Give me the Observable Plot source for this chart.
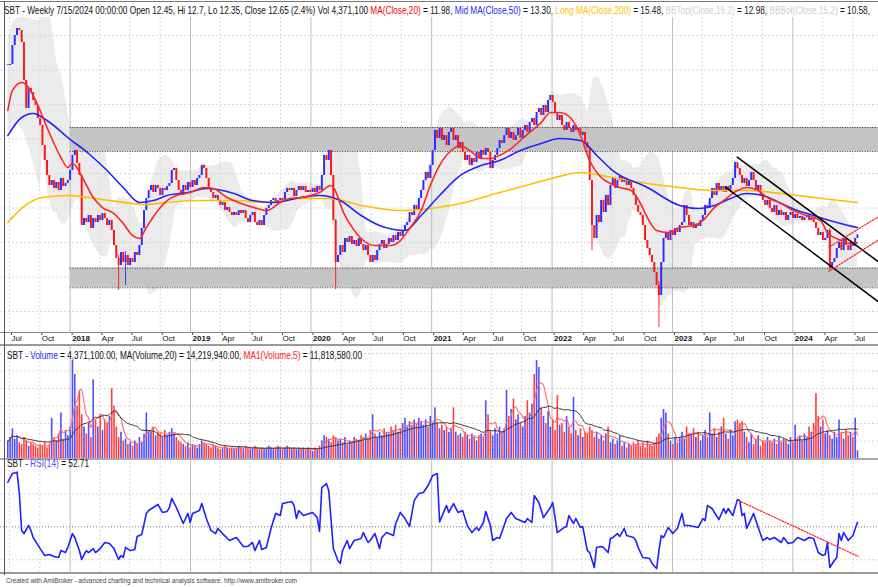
<!DOCTYPE html>
<html><head><meta charset="utf-8">
<script src="https://cdn.jsdelivr.net/npm/d3@7"></script>
<script src="https://cdn.jsdelivr.net/npm/@observablehq/plot@0.6"></script>
<style>
body{margin:0;background:#fff;}
#chart{position:relative;width:878px;height:587px;overflow:hidden;background:#fff;font-family:"Liberation Sans",Arial,sans-serif;}
.pane{position:absolute;left:0;}
.hdr{position:absolute;white-space:nowrap;transform-origin:0 50%;color:#111;}
.sep{position:absolute;left:0;width:878px;}
</style></head><body><div id="chart"></div>
<script>
// ---------- DATA (weekly bars, SBT) ----------
const firstWeek = "2017-06-26";           // Monday of first weekly bar
const closes = [27.39,27.48,29.13,30.0,30.61,30.43,29.39,26.09,23.65,25.39,
25.04,24.35,23.91,22.78,22.17,20.43,19.13,17.83,16.96,17.39,
16.70,17.22,16.52,17.57,16.87,17.13,17.39,18.26,19.57,20.0,
18.87,17.83,13.48,14.09,13.74,14.35,13.22,14.09,13.74,14.35,
13.91,14.52,14.09,13.48,13.91,13.04,11.74,10.61,10.0,11.13,
10.26,10.87,10.0,10.61,10.26,11.13,10.87,11.74,13.22,14.78,
15.83,16.52,16.96,16.35,16.96,16.70,16.09,16.70,16.52,16.87,
17.13,18.26,18.43,17.39,16.52,16.09,16.96,16.52,17.22,16.78,
17.39,16.96,17.57,17.83,18.70,18.43,17.57,16.70,16.35,15.83,
16.09,15.65,15.22,15.48,14.78,15.04,14.61,14.35,14.61,14.35,
14.78,14.52,14.78,14.09,13.74,14.35,14.61,13.74,13.48,13.91,
13.48,14.35,14.96,15.22,15.65,15.83,15.39,15.65,15.83,15.65,
16.35,16.70,16.52,16.70,16.0,16.52,16.87,16.52,16.87,16.35,
16.52,16.35,16.70,16.35,16.87,16.52,17.83,19.57,19.13,20.0,
17.83,13.91,10.26,10.87,11.74,11.13,12.35,12.0,12.52,11.83,
12.17,11.65,12.35,11.83,11.30,11.74,10.87,10.26,10.87,10.43,
11.30,11.83,12.17,11.48,11.83,12.35,12.0,12.61,12.17,12.87,
12.52,13.04,13.48,13.74,14.61,14.35,15.22,14.78,15.83,16.52,
17.39,18.09,17.57,18.70,20.0,21.74,21.04,21.91,20.87,21.30,
20.43,21.57,21.91,20.87,21.30,20.17,20.70,19.83,19.13,19.57,
18.70,19.30,18.96,19.83,19.30,20.0,19.57,20.17,19.83,18.43,
19.13,19.57,20.17,20.87,20.61,21.30,21.91,21.04,21.57,20.87,
21.30,21.91,21.04,21.74,22.17,21.57,22.43,22.78,22.17,23.30,
23.65,23.04,23.91,23.30,24.35,24.78,24.17,23.30,22.61,23.04,
22.17,21.74,22.43,21.91,21.57,22.17,21.74,21.91,21.30,21.57,
20.70,20.17,17.39,13.48,12.35,14.35,13.74,15.65,14.61,16.09,
15.22,16.96,17.57,16.70,17.39,17.74,17.22,17.57,16.96,17.39,
16.70,16.09,15.22,14.61,14.35,13.48,12.17,11.48,10.87,10.26,
9.39,8.26,7.39,10.26,12.35,12.87,12.17,13.04,12.61,13.22,
12.87,13.48,13.74,15.22,14.35,13.48,13.74,13.22,13.57,13.39,
13.91,14.35,15.22,14.96,15.83,16.70,16.09,17.13,16.52,16.87,
16.35,16.87,16.52,16.96,17.57,18.96,18.43,17.83,17.13,17.57,
16.87,17.39,18.09,17.39,16.52,16.96,16.09,15.65,15.22,15.65,
14.96,14.61,15.22,14.35,14.78,14.35,14.61,13.91,14.35,14.61,
14.09,14.43,14.09,14.26,13.91,14.17,14.35,13.91,14.09,13.74,
13.22,12.61,12.87,12.17,12.35,13.04,9.74,10.26,10.61,11.48,
12.0,11.30,12.35,11.74,11.30,12.0,11.65,12.35,12.65];
// notable wicks [week index, low, high]
const wicks = [[48,7.83,10.9],[51,8.26,11.2],[142,7.9,14.0],[282,4.61,8.6],[356,9.57,13.2],[253,11.3,17.4]];
// volume, millions of shares
const volumes = [10,12,17,11,13,9,8,12,10,7,
9,8,7,6,8,7,9,6,8,23,
12,10,14,26,11,16,13,18,56,48,
30,39,25,18,14,20,12,45,22,18,
25,16,22,20,24,40,30,18,12,15,
10,11,8,9,7,10,8,12,9,14,
26,16,15,18,13,15,14,12,16,13,
15,17,14,12,10,9,8,7,9,6,
8,7,6,8,10,9,8,7,6,8,
7,6,5,6,7,6,5,6,5,6,
7,6,5,7,6,5,6,7,6,5,
6,5,6,7,6,5,6,7,6,5,
6,7,6,5,6,5,6,5,6,5,
6,5,4,6,5,7,10,13,12,11,
9,13,12,10,11,9,12,8,10,9,
12,11,10,13,12,14,11,16,25,14,
12,15,13,17,15,14,18,16,19,15,
17,20,23,18,21,19,22,20,23,21,
19,22,18,24,20,29,20,17,19,16,
18,15,17,29,15,13,14,12,15,13,
11,14,12,10,13,14,12,33,25,16,
13,17,14,18,15,17,39,24,28,34,
22,25,20,18,24,33,26,31,48,56,
52,29,24,20,27,18,22,16,36,19,
20,15,24,18,14,35,16,13,17,12,
15,14,18,16,12,15,11,13,10,14,
18,9,11,8,10,13,7,9,6,8,
7,9,8,10,7,9,6,10,8,7,
9,12,14,23,28,26,14,10,8,12,
9,12,15,11,18,14,13,17,12,15,
10,13,16,12,26,14,17,12,15,18,
23,14,11,16,13,21,22,20,21,15,
12,9,14,8,11,13,7,10,9,12,
10,9,11,8,12,9,11,10,8,12,
9,19,11,13,10,14,12,18,15,20,
37,24,18,22,14,16,13,11,15,12,
22,14,11,16,13,15,12,23,4.3711];
// moving averages [week index, value]
const ma20 = [[0,23.48],[2,25.22],[6,25.91],[9,25.48],[11,24.78],[14,23.48],[17,22.0],[20,20.61],[23,19.39],[26,18.52],[28,18.87],[33,17.39],[37,15.91],[41,15.04],[46,14.52],[50,13.65],[54,12.61],[57,12.35],[60,13.30],[65,14.78],[69,15.65],[73,16.09],[79,16.35],[85,16.78],[89,16.70],[95,15.91],[101,15.39],[108,14.96],[112,14.78],[118,15.48],[122,15.83],[127,15.91],[135,16.35],[140,16.96],[146,14.35],[153,12.35],[159,11.74],[166,11.74],[170,12.17],[174,13.22],[179,14.78],[183,16.96],[187,18.70],[192,20.0],[196,20.43],[200,20.0],[205,19.30],[209,19.30],[213,19.57],[218,20.17],[222,20.87],[226,21.57],[231,22.43],[235,23.30],[239,23.30],[244,22.78],[248,21.30],[252,19.13],[257,17.65],[261,17.13],[265,16.78],[270,16.52],[274,15.39],[277,14.17],[281,13.04],[286,12.87],[291,13.30],[297,13.48],[301,13.91],[306,15.04],[310,15.65],[316,16.52],[320,16.78],[325,16.52],[329,15.91],[335,15.39],[340,14.78],[346,14.35],[352,13.91],[355,12.87],[361,12.17],[365,11.90],[368,11.98]];
const ma50 = [[0,21.30],[6,22.87],[11,23.22],[17,22.61],[26,21.13],[35,19.74],[43,18.26],[50,16.78],[57,15.48],[63,15.65],[69,16.09],[78,16.35],[86,16.70],[98,16.26],[106,15.65],[115,15.48],[127,15.91],[135,16.09],[144,15.65],[153,14.35],[161,13.48],[172,13.04],[179,14.35],[187,16.09],[196,17.83],[205,18.70],[213,19.13],[222,20.0],[231,20.61],[239,21.04],[248,20.87],[256,19.39],[262,18.26],[277,16.78],[291,15.22],[299,14.96],[306,15.22],[313,15.83],[320,16.26],[327,16.09],[335,15.39],[342,14.78],[349,14.35],[356,13.91],[364,13.48],[368,13.30]];
const ma200 = [[0,13.74],[6,14.96],[11,15.65],[15,15.91],[26,16.09],[35,15.91],[44,15.65],[54,15.39],[59,15.30],[69,15.48],[83,15.65],[98,15.65],[112,15.48],[127,15.83],[140,15.83],[153,15.22],[170,14.78],[183,14.96],[196,15.39],[213,16.35],[226,17.04],[237,17.65],[248,18.09],[262,17.65],[277,17.13],[291,16.78],[306,16.52],[320,16.52],[335,16.26],[349,15.91],[368,15.48]];
// Bollinger band for the first weeks (window reaches before the first bar) [week index, top, bottom]
const bbHead = [[0,29.57,21.74],[3,31.3,22.17],[6,31.56,21.9],[9,31.5,20.4],[12,31.3,18.26],[14,31.3,16.96]];
// RSI(14) [week index, value]
const rsi = [[0,77.0],[2,82.3],[4,83.1],[5,70.2],[6,47.8],[7,45.9],[9,50.8],[10,47.8],[11,43.5],[14,36.8],[16,32.6],[18,33.2],[20,32.0],[22,31.4],[23,35.6],[25,34.4],[26,37.5],[28,45.9],[29,43.5],[31,35.6],[32,30.2],[34,35.6],[35,34.4],[37,36.8],[38,34.4],[40,36.8],[42,40.5],[44,39.9],[46,36.8],[48,30.2],[49,32.6],[50,31.4],[51,37.5],[53,35.6],[55,36.2],[56,44.1],[58,45.3],[60,58.1],[61,59.9],[63,61.7],[65,63.5],[67,58.7],[69,59.3],[70,61.7],[71,67.2],[73,61.7],[76,52.0],[78,58.1],[79,52.6],[80,58.1],[83,59.9],[84,64.1],[86,55.0],[88,47.8],[90,45.9],[91,49.0],[93,45.9],[96,41.7],[99,43.5],[102,38.1],[104,38.1],[106,40.5],[107,35.6],[109,41.7],[110,36.2],[112,37.5],[114,49.0],[116,58.1],[118,56.8],[119,64.1],[123,65.3],[124,62.9],[125,55.0],[126,59.9],[128,56.8],[132,58.7],[134,55.6],[135,47.2],[136,73.8],[138,76.2],[139,72.0],[141,36.8],[143,29.6],[144,27.8],[145,35.6],[147,41.7],[148,36.8],[150,41.7],[153,42.9],[154,46.5],[156,40.5],[157,41.7],[159,45.9],[161,36.8],[162,43.5],[164,46.5],[167,44.7],[168,52.0],[170,58.7],[172,55.0],[174,50.2],[176,65.9],[178,70.2],[180,70.8],[182,75.0],[184,81.1],[186,82.3],[187,53.0],[190,62.9],[191,58.7],[193,64.1],[195,58.7],[197,59.9],[199,50.8],[201,46.5],[203,49.6],[204,47.8],[206,52.6],[207,59.3],[209,50.8],[210,41.7],[212,43.5],[213,42.9],[216,55.0],[218,58.7],[220,55.0],[222,53.8],[224,52.6],[225,55.0],[227,52.6],[228,69.0],[230,64.7],[232,55.6],[235,61.7],[236,64.7],[238,46.5],[241,49.6],[242,50.2],[243,56.8],[245,52.0],[246,55.0],[248,49.6],[249,50.2],[251,35.6],[252,34.4],[254,25.3],[255,37.5],[257,38.1],[258,37.5],[260,34.4],[261,42.9],[262,43.5],[264,45.9],[265,44.1],[267,49.0],[268,44.7],[271,43.5],[272,41.7],[273,37.5],[275,31.4],[278,30.8],[279,27.8],[281,24.7],[282,35.6],[283,44.7],[284,43.5],[286,49.6],[287,47.8],[288,45.9],[290,49.0],[292,58.1],[293,50.8],[295,50.8],[297,50.2],[299,49.6],[301,55.0],[302,53.8],[303,62.9],[305,61.1],[306,58.7],[308,54.4],[310,61.1],[311,58.1],[312,61.1],[314,56.8],[316,66.5],[317,65.9],[318,56.8],[319,58.1],[320,49.0],[322,55.0],[323,58.1],[325,49.6],[327,41.7],[329,43.5],[330,42.3],[332,43.5],[335,40.5],[336,43.5],[338,39.9],[340,40.5],[342,43.5],[345,41.7],[347,43.5],[349,42.9],[351,34.4],[353,32.6],[354,33.2],[355,40.5],[356,25.3],[358,29.6],[359,31.4],[360,45.9],[361,41.7],[362,46.5],[364,41.7],[366,44.7],[368,52.71]];
// support/resistance zones and trend lines
const zones = [{from:"2018-01-01", to:"2025-06-01", lo:19.91, hi:22.0},{from:"2018-01-01", to:"2025-06-01", lo:8.06, hi:9.77}];
const blackChannel = [[[315.9,19.42],[380.2,9.85]],[[310.8,16.81],[380.2,6.37]]];
const redChannel = [[[355.6,11.59],[380.2,14.63]],[[355.6,9.50],[380.2,12.61]]];
const rsiTrend = [[316.5,65.9],[368.4,32.0]];
const priceGrid = [6,9,12,15,18,21,24,27,30];
const volGrid = [10,20,30,40,50,60];
const rsiGrid = [30,70];
const monthTicks = ["2017-07-01","2017-10-01","2018-04-01","2018-07-01","2018-10-01","2019-04-01","2019-07-01","2019-10-01","2020-04-01","2020-07-01","2020-10-01","2021-04-01","2021-07-01","2021-10-01","2022-04-01","2022-07-01","2022-10-01","2023-04-01","2023-07-01","2023-10-01","2024-04-01","2024-07-01"];
const monthLabels = ["Jul","Oct","Apr","Jul","Oct","Apr","Jul","Oct","Apr","Jul","Oct","Apr","Jul","Oct","Apr","Jul","Oct","Apr","Jul","Oct","Apr","Jul"];
const yearTicks = ["2018-01-01","2019-01-01","2020-01-01","2021-01-01","2022-01-01","2023-01-01","2024-01-01"];
const yearLabels = ["2018","2019","2020","2021","2022","2023","2024"];

// ---------- BUILD ----------
const t0 = new Date(firstWeek + "T00:00:00Z").getTime();
const wk = i => new Date(t0 + i * 7 * 864e5);
const bars = closes.map((c, i) => {
  const o = i ? closes[i - 1] : c;
  const w = wicks.find(d => d[0] === i);
  return {date: wk(i), o, c, lo: w ? w[1] : Math.min(o, c), hi: w ? w[2] : Math.max(o, c), up: c >= o, v: volumes[i]};
});
const bbCalc = closes.map((c, i) => {
  const w = closes.slice(i - 14, i + 1);
  const m = d3.mean(w), s = Math.sqrt(d3.mean(w, x => (x - m) ** 2));
  return {date: wk(i), top: m + 2 * s, bot: m - 2 * s};
}).filter((d, i) => i >= 15);
const bb = [...bbHead.map(d => ({date: wk(d[0]), top: d[1], bot: d[2]})), ...bbCalc];
const movAvg = (arr, n) => arr.map((_, i) => ({date: wk(i), v: d3.mean(arr.slice(Math.max(0, i - n + 1), i + 1))}));
const vma20 = movAvg(volumes, 20), vma5 = movAvg(volumes, 5);
const mT = monthTicks.map(s => new Date(s + "T00:00:00Z"));
const yT = yearTicks.map(s => new Date(s + "T00:00:00Z"));
const mLab = new Map(mT.map((d, i) => [+d, monthLabels[i]]));
const yLab = new Map(yT.map((d, i) => [+d, yearLabels[i]]));
const X = {type: "utc", domain: [wk(0), wk(368)], range: [7.3, 857]};
const F = "Liberation Sans, Arial, sans-serif";
const pt = d => ({date: wk(d[0]), v: d[1]});
const UP = "#2b2bff", DN = "#ff1414";
const vgrid = [
  Plot.ruleX(mT, {stroke: "#d8d8d8", strokeDasharray: "2,2"}),
  Plot.ruleX(yT, {stroke: "#bdbdbd"})
];

const price = Plot.plot({
  width: 878, height: 345, marginTop: 17, marginBottom: 13, marginLeft: 0, marginRight: 0,
  x: {...X, axis: null}, y: {domain: [0, 380 / 11.5], range: [380, 0], axis: null},
  style: {background: "transparent", fontFamily: F},
  marks: [
    Plot.areaY(bb, {x: "date", y1: "bot", y2: "top", fill: "#ebebeb", curve: "monotone-x", clip: true}),
    Plot.ruleY(priceGrid, {stroke: "#d8d8d8", strokeDasharray: "2,2"}),
    ...vgrid,
    Plot.rect(zones, {x1: d => new Date(d.from), x2: d => new Date(d.to), y1: "lo", y2: "hi", fill: "#c4c4c4", clip: true}),
    Plot.ruleY(zones.flatMap(z => [z.lo, z.hi].map(y => ({y, from: new Date(z.from), to: new Date(z.to)}))), {y: "y", x1: "from", x2: "to", stroke: "#333", strokeDasharray: "1,1.5", clip: true}),
    Plot.ruleX(bars, {x: "date", y1: "lo", y2: "hi", stroke: d => d.up ? UP : DN, strokeWidth: 0.9, clip: true}),
    Plot.ruleX(bars, {x: "date", y1: "o", y2: d => d.c === d.o ? d.c + 0.06 : d.c, stroke: d => d.up ? UP : DN, strokeWidth: 1.9, clip: true}),
    Plot.line(ma200.map(pt), {x: "date", y: "v", stroke: "#ffbf00", strokeWidth: 1.6, curve: "monotone-x", clip: true}),
    Plot.line(ma50.map(pt), {x: "date", y: "v", stroke: "#2323ff", strokeWidth: 1.6, curve: "monotone-x", clip: true}),
    Plot.line(ma20.map(pt), {x: "date", y: "v", stroke: "#ff2626", strokeWidth: 1.6, curve: "monotone-x", clip: true}),
    ...blackChannel.map(l => Plot.line(l.map(pt), {x: "date", y: "v", stroke: "#000", strokeWidth: 1.5, clip: true})),
    ...redChannel.map(l => Plot.line(l.map(pt), {x: "date", y: "v", stroke: "#ff2020", strokeWidth: 1.2, strokeDasharray: "1.5,1.5", clip: true})),
    Plot.axisX(mT, {anchor: "bottom", tickSize: 3, tickPadding: 0, textAnchor: "start", dx: 2, fontSize: 8, tickFormat: d => mLab.get(+d), label: null, stroke: "#444", fill: "#111"}),
    Plot.axisX(yT, {anchor: "bottom", tickSize: 3, tickPadding: 0, textAnchor: "start", dx: 2, fontSize: 8, fontWeight: "bold", tickFormat: d => yLab.get(+d), label: null, stroke: "#444", fill: "#111"})
  ]
});

const vol = Plot.plot({
  width: 878, height: 113, marginTop: 0, marginBottom: 0, marginLeft: 0, marginRight: 0,
  x: {...X, axis: null}, y: {domain: [0, 113 / 1.75], range: [113, 0], axis: null},
  style: {background: "transparent", fontFamily: F},
  marks: [
    Plot.ruleY(volGrid, {stroke: "#d8d8d8", strokeDasharray: "2,2"}),
    ...vgrid,
    Plot.ruleX(bars.filter(d => d.up), {x: "date", y1: 0, y2: "v", stroke: "#4f4fff", strokeWidth: 1.6}),
    Plot.ruleX(bars.filter(d => !d.up), {x: "date", y1: 0, y2: "v", stroke: "#ff4040", strokeWidth: 1.6}),
    Plot.line(vma5, {x: "date", y: "v", stroke: "#ff6a6a", strokeWidth: 1.1, curve: "monotone-x"}),
    Plot.line(vma20, {x: "date", y: "v", stroke: "#3a3a3a", strokeWidth: 1, curve: "monotone-x"})
  ]
});

const rsiP = Plot.plot({
  width: 878, height: 114, marginTop: 0, marginBottom: 0, marginLeft: 0, marginRight: 0,
  x: {...X, axis: null}, y: {domain: [0, 100], range: [150.8, -14.2], axis: null},
  style: {background: "transparent", fontFamily: F},
  marks: [
    Plot.ruleY(rsiGrid, {stroke: "#d8d8d8", strokeDasharray: "2,2"}),
    Plot.ruleY([50], {stroke: "#777", strokeDasharray: "1,2"}),
    ...vgrid,
    Plot.line(rsi.map(pt), {x: "date", y: "v", stroke: "#2020ff", strokeWidth: 1.6, clip: true}),
    Plot.line(rsiTrend.map(pt), {x: "date", y: "v", stroke: "#ff2020", strokeWidth: 1.2, strokeDasharray: "1.5,1.5", clip: true})
  ]
});

// ---------- LAYOUT ----------
const chart = document.getElementById("chart");
function place(el, top) { const d = document.createElement("div"); d.className = "pane"; d.style.top = top + "px"; d.appendChild(el); chart.appendChild(d); }
place(price, 0); place(vol, 345); place(rsiP, 458);
function sep(top, h, color) { const d = document.createElement("div"); d.className = "sep"; d.style.top = top + "px"; d.style.height = h + "px"; d.style.background = color; chart.appendChild(d); }
sep(1, 1, "#777"); sep(332, 1, "#888"); sep(344, 1.5, "#999"); sep(457.5, 2, "#aaa"); sep(572, 1.5, "#999");
const lb = document.createElement("div"); lb.style.cssText = "position:absolute;left:4px;top:1px;width:1px;height:574px;background:#555"; chart.appendChild(lb);
function header(html, top, left, right, size) {
  const d = document.createElement("div"); d.className = "hdr"; d.innerHTML = html;
  d.style.top = top + "px"; d.style.left = left + "px"; d.style.fontSize = size + "px"; d.style.lineHeight = (size + 2) + "px";
  chart.appendChild(d);
  const w = d.getBoundingClientRect().width; d.style.transform = `scaleX(${(right - left) / w})`;
}
const S = (c, t) => `<span style="color:${c}">${t}</span>`;
header(`SBT - Weekly 7/15/2024 00:00:00 Open 12.45, Hi 12.7, Lo 12.35, Close 12.65 (2.4%) Vol 4,371,100 ${S("#ff0000","MA(Close,20)")} = 11.98, ${S("#1f1fff","Mid MA(Close,50)")} = 13.30, ${S("#ffbf00","Long MA(Close,200)")} = 15.48, ${S("#cfcfcf","BBTop(Close,15,2)")} = 12.98, ${S("#cfcfcf","BBBot(Close,15,2)")} = 10.58,`, 4, 4, 870, 10.5);
header(`SBT - ${S("#2a2aff","Volume")} = 4,371,100.00, MA(Volume,20) = 14,219,940.00, ${S("#ff2020","MA1(Volume,5)")} = 11,818,580.00`, 348.5, 7, 362, 10.5);
header(`SBT - ${S("#4a4aff","RSI(14)")} = 52.71`, 456.5, 7, 89, 10.5);
header(`<span style="color:#444">Created with AmiBroker - advanced charting and technical analysis software. http://www.amibroker.com</span>`, 576, 6, 297, 7);
</script></body></html>
